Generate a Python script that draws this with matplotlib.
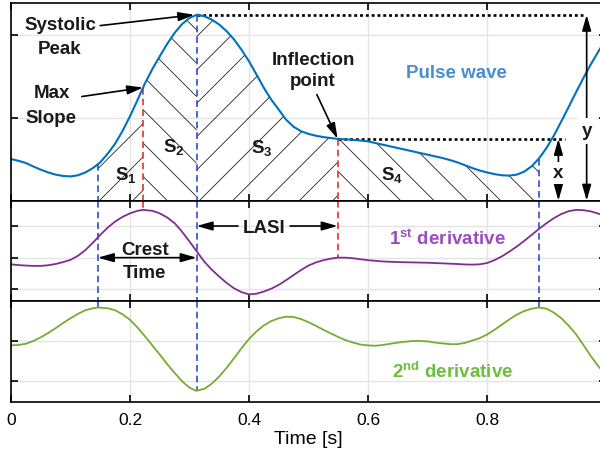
import numpy as np
import matplotlib
matplotlib.use("Agg")
import matplotlib.pyplot as plt
from matplotlib.patches import ArrowStyle

plt.rcParams.update({
    "font.family": ["Liberation Sans", "DejaVu Sans"],
    "mathtext.fontset": "custom",
    "mathtext.rm": "Liberation Sans:bold",
    "mathtext.it": "Liberation Sans:bold",
    "mathtext.bf": "Liberation Sans:bold",
    "hatch.linewidth": 0.6,
    "axes.linewidth": 1.2,
})

# ---- signals (arbitrary units) ----
time_pw = [0.0000, 0.0125, 0.0250, 0.0375, 0.0500, 0.0625, 0.0750, 0.0875, 0.1000, 0.1125,
           0.1250, 0.1375, 0.1500, 0.1625, 0.1750, 0.1875, 0.2000, 0.2125, 0.2250, 0.2375,
           0.2500, 0.2625, 0.2750, 0.2875, 0.3000, 0.3125, 0.3250, 0.3375, 0.3500, 0.3625,
           0.3750, 0.3875, 0.4000, 0.4125, 0.4250, 0.4375, 0.4500, 0.4625, 0.4750, 0.4875,
           0.5000, 0.5125, 0.5250, 0.5375, 0.5500, 0.5625, 0.5750, 0.5875, 0.6000, 0.6125,
           0.6250, 0.6375, 0.6500, 0.6625, 0.6750, 0.6875, 0.7000, 0.7125, 0.7250, 0.7375,
           0.7500, 0.7625, 0.7750, 0.7875, 0.8000, 0.8125, 0.8250, 0.8375, 0.8500, 0.8625,
           0.8750, 0.8875, 0.9000, 0.9125, 0.9250, 0.9375, 0.9500, 0.9625, 0.9750, 0.9875,
           1.0000]
pulse_wave = [0.251, 0.240, 0.227, 0.206, 0.187, 0.170, 0.157, 0.149, 0.146, 0.153,
              0.170, 0.196, 0.231, 0.283, 0.343, 0.420, 0.508, 0.605, 0.705, 0.792,
              0.869, 0.944, 1.010, 1.063, 1.100, 1.120, 1.110, 1.090, 1.060, 1.020,
              0.970, 0.908, 0.839, 0.760, 0.679, 0.608, 0.548, 0.487, 0.445, 0.418,
              0.402, 0.391, 0.383, 0.377, 0.372, 0.369, 0.366, 0.362, 0.357, 0.347,
              0.337, 0.327, 0.317, 0.307, 0.297, 0.287, 0.277, 0.267, 0.257, 0.245,
              0.231, 0.214, 0.197, 0.182, 0.170, 0.160, 0.153, 0.151, 0.157, 0.175,
              0.207, 0.255, 0.317, 0.393, 0.478, 0.566, 0.655, 0.742, 0.824, 0.900,
              0.975]

time_d1 = [0.0000, 0.0125, 0.0250, 0.0375, 0.0500, 0.0625, 0.0750, 0.0875, 0.1000, 0.1125,
           0.1250, 0.1375, 0.1500, 0.1625, 0.1750, 0.1875, 0.2000, 0.2125, 0.2220, 0.2375,
           0.2500, 0.2625, 0.2750, 0.2875, 0.3000, 0.3125, 0.3250, 0.3375, 0.3500, 0.3625,
           0.3750, 0.3875, 0.4000, 0.4125, 0.4250, 0.4375, 0.4500, 0.4625, 0.4750, 0.4875,
           0.5000, 0.5125, 0.5250, 0.5375, 0.5490, 0.5625, 0.5750, 0.5875, 0.6000, 0.6250,
           0.6500, 0.6750, 0.7000, 0.7250, 0.7500, 0.7625, 0.7750, 0.7875, 0.8000, 0.8125,
           0.8250, 0.8375, 0.8500, 0.8625, 0.8750, 0.8875, 0.9000, 0.9125, 0.9250, 0.9375,
           0.9500, 0.9625, 0.9750, 0.9875, 1.0000]
first_derivative = [-0.21, -0.235, -0.25, -0.26, -0.26, -0.24, -0.20, -0.14, -0.07, 0.06,
                    0.24, 0.47, 0.72, 0.95, 1.14, 1.29, 1.40, 1.48, 1.51, 1.48,
                    1.40, 1.27, 1.09, 0.82, 0.51, 0.19, -0.13, -0.38, -0.60, -0.80,
                    -0.97, -1.09, -1.16, -1.14, -1.07, -0.98, -0.86, -0.71, -0.55, -0.39,
                    -0.25, -0.15, -0.08, -0.03, 0.00, 0.00, -0.02, -0.05, -0.08, -0.12,
                    -0.14, -0.15, -0.16, -0.18, -0.20, -0.215, -0.22, -0.21, -0.17, -0.08,
                    0.04, 0.19, 0.35, 0.53, 0.72, 0.91, 1.09, 1.25, 1.38, 1.47,
                    1.51, 1.50, 1.46, 1.39, 1.30]

time_d2 = [0.0000, 0.0125, 0.0250, 0.0375, 0.0500, 0.0625, 0.0750, 0.0875, 0.1000, 0.1125,
           0.1250, 0.1375, 0.1470, 0.1625, 0.1750, 0.1875, 0.2000, 0.2125, 0.2250, 0.2375,
           0.2500, 0.2625, 0.2750, 0.2875, 0.3000, 0.3110, 0.3250, 0.3375, 0.3500, 0.3625,
           0.3750, 0.3875, 0.4000, 0.4125, 0.4250, 0.4375, 0.4500, 0.4620, 0.4750, 0.4875,
           0.5000, 0.5125, 0.5250, 0.5375, 0.5500, 0.5625, 0.5750, 0.5875, 0.6000, 0.6125,
           0.6250, 0.6375, 0.6500, 0.6625, 0.6750, 0.6875, 0.7000, 0.7125, 0.7250, 0.7375,
           0.7500, 0.7625, 0.7750, 0.7875, 0.8000, 0.8125, 0.8250, 0.8375, 0.8500, 0.8625,
           0.8750, 0.8870, 0.9000, 0.9125, 0.9250, 0.9375, 0.9500, 0.9625, 0.9750, 0.9875,
           1.0000]
second_derivative = [-0.10, -0.09, -0.06, 0.01, 0.10, 0.21, 0.33, 0.46, 0.58, 0.69,
                     0.78, 0.83, 0.85, 0.83, 0.78, 0.68, 0.54, 0.35, 0.13, -0.10,
                     -0.33, -0.57, -0.79, -1.00, -1.16, -1.24, -1.19, -1.06, -0.88, -0.66,
                     -0.42, -0.17, 0.06, 0.25, 0.40, 0.51, 0.58, 0.62, 0.61, 0.56,
                     0.48, 0.39, 0.29, 0.20, 0.11, 0.03, -0.03, -0.08, -0.10, -0.11,
                     -0.09, -0.06, -0.03, -0.01, 0.01, 0.01, 0.00, -0.03, -0.05, -0.07,
                     -0.07, -0.04, 0.02, 0.08, 0.17, 0.29, 0.42, 0.55, 0.67, 0.76,
                     0.82, 0.85, 0.82, 0.72, 0.58, 0.39, 0.17, -0.10, -0.38, -0.63,
                     -0.85]

# characteristic instants [s]
t_foot = 0.146
t_max_slope = 0.222
t_peak = 0.312
t_inflection = 0.549
t_next_foot = 0.887

x_ticks = [0, 0.2, 0.4, 0.6, 0.8, 1.0]
x_tick_labels = ["0", "0.2", "0.4", "0.6", "0.8", ""]

PW_COLOR = "#0072BD"
D1_COLOR = "#7E2F8E"
D2_COLOR = "#77AC30"
BLUE_DASH = "#2F4FC0"
RED_DASH = "#E8302A"

ANN = dict(fontsize=13.5, fontweight="bold", color="#1a1a1a")
HEAD = ArrowStyle("-|>", head_length=0.95, head_width=0.27)
DHEAD = ArrowStyle("<|-|>", head_length=0.95, head_width=0.27)


def arrow(ax, xy, xytext, style=HEAD):
    ax.annotate("", xy=xy, xytext=xytext,
                arrowprops=dict(arrowstyle=style, color="k", lw=1.2,
                                mutation_scale=10, shrinkA=0, shrinkB=0),
                zorder=6)


def vdash(ax, t, y0, y1, color):
    ax.plot([t, t], [y0, y1], color=color, lw=1.2, dashes=(4, 2.4), zorder=4)


fig = plt.figure(figsize=(6, 4.63), dpi=100)
left, width = 11 / 600, 595 / 600
ax1 = fig.add_axes([left, 1 - 200.7 / 463, width, 197.7 / 463])
ax2 = fig.add_axes([left, 1 - 300.7 / 463, width, 100.0 / 463])
ax3 = fig.add_axes([left, 1 - 402.0 / 463, width, 101.3 / 463])

ylims = [(0, 1.19), (-1.36, 1.80), (-1.52, 1.02)]
yticks = [[0.5, 1.0], [-1, 0, 1], [-1, 0]]
for ax, yl, yt in zip((ax1, ax2, ax3), ylims, yticks):
    ax.set_xlim(0, 1)
    ax.set_ylim(*yl)
    ax.set_xticks(x_ticks)
    ax.set_yticks(yt)
    ax.grid(True, color="#e4e4e4", lw=1.0, zorder=0)
    ax.set_axisbelow(True)
    ax.tick_params(direction="in", length=5, width=1.2, top=True, right=True,
                   labelleft=False, labelbottom=False, pad=8)
    for s in ax.spines.values():
        s.set_zorder(7)

ax3.tick_params(labelbottom=True, labelsize=12.5)
ax3.set_xticklabels(x_tick_labels)
ax3.set_xlabel("Time [s]", fontsize=14, labelpad=2)

# ---- pulse wave panel ----
tp = np.array(time_pw)
vp = np.array(pulse_wave)


def pw(t):
    return float(np.interp(t, tp, vp))


def segment(t0, t1):
    inner = tp[(tp > t0) & (tp < t1)]
    tt = np.concatenate([[t0], inner, [t1]])
    return tt, np.interp(tt, tp, vp)


for (t0, t1), h in zip([(t_foot, t_max_slope), (t_max_slope, t_peak),
                        (t_peak, t_inflection), (t_inflection, t_next_foot)],
                       ["/", "\\", "/", "\\"]):
    tt, vv = segment(t0, t1)
    ax1.fill_between(tt, 0, vv, facecolor="none", edgecolor="#222222",
                     hatch=h, linewidth=0, zorder=1)

ax1.plot(tp, vp, color=PW_COLOR, lw=1.5, zorder=5)

peak_val = pw(t_peak)
infl_val = pw(t_inflection)
dot = dict(color="k", lw=1.9, linestyle=(0, (1.1, 1.1)), zorder=3)
ax1.plot([t_peak, 0.961], [peak_val, peak_val], **dot)
ax1.plot([t_inflection, 0.931], [infl_val, infl_val], **dot)

arrow(ax1, (0.9675, peak_val), (0.9675, 0.0), DHEAD)
arrow(ax1, (0.920, infl_val), (0.920, 0.0), DHEAD)
ax1.text(0.9675, 0.392, "y", ha="center", va="baseline", zorder=8,
         bbox=dict(facecolor="white", edgecolor="none", pad=3), **ANN)
ax1.text(0.920, 0.139, "x", ha="center", va="baseline", zorder=8,
         bbox=dict(facecolor="white", edgecolor="none", pad=2), **ANN)

vdash(ax1, t_foot, pw(t_foot), 0, BLUE_DASH)
vdash(ax1, t_max_slope, pw(t_max_slope), 0, RED_DASH)
vdash(ax1, t_peak, peak_val, 0, BLUE_DASH)
vdash(ax1, t_inflection, infl_val, 0, RED_DASH)
vdash(ax1, t_next_foot, pw(t_next_foot), 0, BLUE_DASH)

ax1.text(0.0824, 1.030, "Systolic", ha="center", va="baseline", **ANN)
ax1.text(0.0824, 0.886, "Peak", ha="center", va="baseline", **ANN)
arrow(ax1, (t_peak - 0.004, peak_val), (0.150, 1.054))
ax1.text(0.069, 0.620, "Max", ha="center", va="baseline", **ANN)
ax1.text(0.067, 0.470, "Slope", ha="center", va="baseline", **ANN)
arrow(ax1, (t_max_slope, pw(t_max_slope)), (0.119, 0.627))
ax1.text(0.509, 0.819, "Inflection", ha="center", va="baseline", **ANN)
ax1.text(0.507, 0.693, "point", ha="center", va="baseline", **ANN)
arrow(ax1, (t_inflection, infl_val), (0.514, 0.639))
ax1.text(0.748, 0.741, "Pulse wave", ha="center", va="baseline",
         fontsize=13.5, fontweight="bold", color="#4A8DD0")

for tx, ty, lab in [(0.175, 0.127, "S$_1$"), (0.256, 0.291, "S$_2$"),
                    (0.403, 0.287, "S$_3$"), (0.622, 0.127, "S$_4$")]:
    ax1.text(tx, ty, lab, ha="left", va="baseline", zorder=8, **ANN)

# ---- first derivative panel ----
t1a = np.array(time_d1)
v1a = np.array(first_derivative)
ax2.plot(t1a, v1a, color=D1_COLOR, lw=1.3, zorder=5)
y2b, y2t = ylims[1]
vdash(ax2, t_foot, y2t, y2b, BLUE_DASH)
vdash(ax2, t_max_slope, y2t, np.interp(t_max_slope, t1a, v1a), RED_DASH)
vdash(ax2, t_peak, y2t, y2b, BLUE_DASH)
vdash(ax2, t_inflection, y2t, np.interp(t_inflection, t1a, v1a), RED_DASH)
vdash(ax2, t_next_foot, y2t, y2b, BLUE_DASH)

arrow(ax2, (t_peak, 0.0), (t_foot, 0.0), DHEAD)
ax2.text(0.225, 0.085, "Crest", ha="center", va="baseline", **ANN)
ax2.text(0.225, -0.64, "Time", ha="center", va="baseline", **ANN)
arrow(ax2, (t_peak, 1.0), (0.3815, 1.0))
arrow(ax2, (t_inflection, 1.0), (0.469, 1.0))
ax2.text(0.425, 0.78, "LASI", ha="center", va="baseline", **ANN)
ax2.text(0.734, 0.40, "1$^{st}$ derivative", ha="center", va="baseline",
         fontsize=13.5, fontweight="bold", color="#9B4DBE")

# ---- second derivative panel ----
t2a = np.array(time_d2)
v2a = np.array(second_derivative)
ax3.plot(t2a, v2a, color=D2_COLOR, lw=1.3, zorder=5)
y3b, y3t = ylims[2]
vdash(ax3, t_foot, y3t, np.interp(t_foot, t2a, v2a), BLUE_DASH)
vdash(ax3, t_peak, y3t, np.interp(t_peak, t2a, v2a), BLUE_DASH)
vdash(ax3, t_next_foot, y3t, np.interp(t_next_foot, t2a, v2a), BLUE_DASH)
ax3.text(0.743, -0.915, "2$^{nd}$ derivative", ha="center", va="baseline",
         fontsize=13.5, fontweight="bold", color="#6DBE3C")

fig.savefig("out.png", dpi=100)
